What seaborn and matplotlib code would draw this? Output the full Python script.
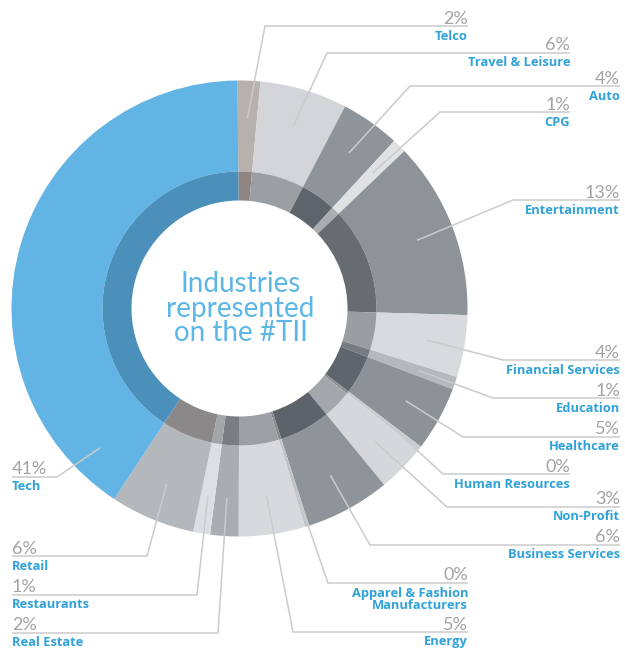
import matplotlib
matplotlib.use("Agg")
import numpy as np
import matplotlib.pyplot as plt
import seaborn as sns

# Share of participants by industry, clockwise from 12 o'clock
industries = ["Telco", "Travel & Leisure", "Auto", "CPG", "Entertainment",
              "Financial Services", "Education", "Healthcare", "Human Resources",
              "Non-Profit", "Business Services", "Apparel & Fashion\nManufacturers",
              "Energy", "Real Estate", "Restaurants", "Retail", "Tech"]
shares = [1.6, 6.2, 4.2, 1.0, 12.6, 4.4, 0.9, 4.6, 0.3,
          3.4, 6.0, 0.3, 4.7, 2.0, 1.2, 6.0, 40.6]

outer_colors = ["#b7b1ad", "#d3d5d8", "#8f949b", "#dfe1e3", "#8e939a",
                "#d8dadd", "#b5b8bc", "#8d9299", "#c9ccd0", "#d5d7da",
                "#8f949b", "#c0c3c7", "#d7d9dc", "#a9adb2", "#dcdee1",
                "#b4b7bb", "#62b4e4"]
inner_colors = ["#8e8581", "#9b9ea2", "#5e646b", "#a9acb0", "#676c73",
                "#9a9da2", "#777c82", "#5f656c", "#8b8f94", "#a3a6aa",
                "#5d636a", "#868a8f", "#9c9fa3", "#7a7e84", "#a2a5a9",
                "#8a8889", "#4b8fbb"]

sns.set_theme(style="white")
plt.rcParams["font.family"] = ["Lato", "DejaVu Sans"]

W, H = 625, 649
fig = plt.figure(figsize=(W / 100, H / 100), dpi=100)
ax = fig.add_axes([0, 0, 1, 1])

CX, CY = 239.5, H - 308.5
R_OUT, R_MID, R_IN = 228, 137, 108

wedges, _ = ax.pie(shares, radius=R_OUT, center=(CX, CY), startangle=90.5,
                   counterclock=False, colors=outer_colors,
                   wedgeprops=dict(width=R_OUT - R_MID, linewidth=0))
ax.pie(shares, radius=R_MID, center=(CX, CY), startangle=90.5,
       counterclock=False, colors=inner_colors,
       wedgeprops=dict(width=R_MID - R_IN, linewidth=0))

ax.set_xlim(0, W)
ax.set_ylim(0, H)
ax.set_aspect("equal")
ax.axis("off")

# label placement in screen pixels (top-down): side, text edge x, leader y, elbow x
label_layout = {
    "Telco": ("R", 468, 26, 265),
    "Travel & Leisure": ("R", 570, 53, 327),
    "Auto": ("R", 620, 86, 410),
    "CPG": ("R", 570, 112, 440),
    "Entertainment": ("R", 620, 200, 513),
    "Financial Services": ("R", 620, 360, 503),
    "Education": ("R", 620, 398, 493),
    "Healthcare": ("R", 620, 437, 463),
    "Human Resources": ("R", 570, 474, 443),
    "Non-Profit": ("R", 620, 507, 447),
    "Business Services": ("R", 620, 545, 370),
    "Apparel & Fashion\nManufacturers": ("R", 468, 583, 328),
    "Energy": ("R", 468, 632, 293),
    "Real Estate": ("L", 12, 633, 218),
    "Restaurants": ("L", 12, 595, 197),
    "Retail": ("L", 12, 556, 147),
    "Tech": ("L", 12, 477, 57),
}
# where along the wedge (clockwise fraction) each leader line starts
anchor_frac = {"Tech": 0.08}

line_color = "#cbcbcb"
pct_color = "#a3a3a3"
name_color = "#2fa2da"

for name, share, w in zip(industries, shares, wedges):
    side, tx, ly, ex = label_layout[name]
    f = anchor_frac.get(name, 0.5)
    # wedges run clockwise, so theta2 is the leading edge
    theta = np.deg2rad(w.theta2 - f * (w.theta2 - w.theta1))
    r_a = 197 if name == "Tech" else 190
    axx, ayy = CX + r_a * np.cos(theta), CY + r_a * np.sin(theta)
    y_line = H - ly
    ax.plot([axx, ex, tx], [ayy, y_line, y_line], color=line_color, lw=1.1,
            solid_capstyle="butt", zorder=3)
    ha = "right" if side == "R" else "left"
    ax.text(tx, y_line + 2.5, f"{share:.0f}%", ha=ha, va="baseline",
            fontsize=13, color=pct_color, fontweight="normal")
    ax.text(tx, y_line - 3.5, name, ha=ha, va="top", fontsize=9.3,
            color=name_color, fontweight="bold", linespacing=0.95,
            family=["Open Sans", "DejaVu Sans"])

ax.text(CX + 1, CY, "Industries\nrepresented\non the #TII", ha="center",
        va="center", fontsize=20, color="#5cb6e6", linespacing=0.95)

fig.savefig("out.png", dpi=100)
